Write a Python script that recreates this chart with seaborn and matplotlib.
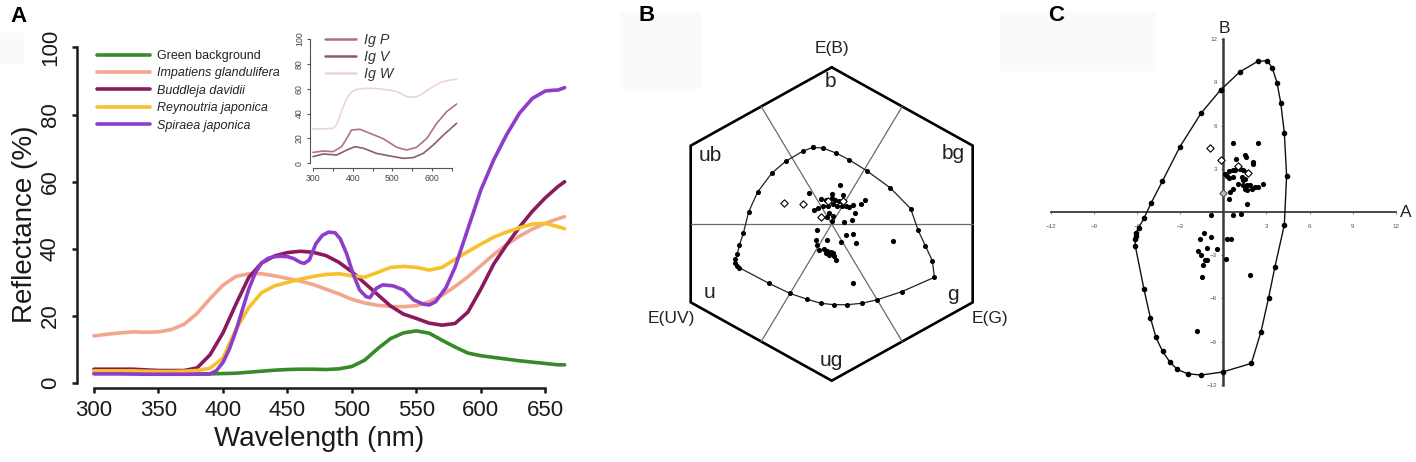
import numpy as np
import pandas as pd
import matplotlib
matplotlib.use("Agg")
import matplotlib.pyplot as plt
import seaborn as sns
from matplotlib.lines import Line2D
from matplotlib.patches import Rectangle

# ---------------- Panel A data ----------------
wl_grid = [300, 310, 320, 330, 340, 350, 360, 370, 380, 390,
           400, 410, 420, 430, 440, 450, 460, 470, 480, 490,
           500, 510, 520, 530, 540, 550, 560, 570, 580, 590,
           600, 610, 620, 630, 640, 650, 660, 665]
green_bg = [3.0, 3.0, 3.0, 3.0, 2.9, 2.8, 2.8, 2.8, 2.8, 2.8,
            2.9, 3.0, 3.3, 3.6, 3.9, 4.1, 4.2, 4.2, 4.1, 4.3,
            5.0, 6.9, 10.3, 13.3, 15.0, 15.6, 14.9, 12.8, 10.8, 9.0,
            8.2, 7.7, 7.2, 6.7, 6.3, 5.9, 5.5, 5.5]
impatiens = [14.1, 14.6, 15.0, 15.3, 15.2, 15.3, 16.0, 17.6, 20.8, 25.2,
             29.2, 31.8, 32.6, 32.6, 32.0, 31.2, 30.4, 29.4, 28.0, 26.6,
             25.0, 23.9, 23.2, 22.9, 22.8, 23.1, 24.3, 26.2, 28.8, 31.7,
             35.0, 38.3, 41.3, 43.8, 45.9, 47.6, 49.0, 49.6]
buddleja = [4.2, 4.2, 4.2, 4.2, 4.0, 3.8, 3.8, 3.8, 4.6, 8.5,
            15.0, 23.5, 31.5, 35.8, 37.9, 38.9, 39.3, 39.0, 38.0, 36.0,
            33.2, 29.8, 26.4, 23.0, 20.6, 19.3, 17.9, 17.3, 17.8, 21.2,
            28.0, 35.5, 41.2, 46.5, 51.2, 55.2, 58.6, 60.0]
reynoutria = [3.7, 3.7, 3.7, 3.7, 3.6, 3.5, 3.5, 3.6, 3.8, 4.5,
              7.5, 16.0, 22.5, 27.0, 29.0, 30.0, 31.0, 31.8, 32.4, 32.6,
              32.0, 31.6, 33.0, 34.5, 34.8, 34.5, 33.7, 34.5, 36.9, 39.2,
              41.4, 43.5, 45.0, 46.3, 47.4, 47.6, 46.6, 46.0]
wl_spiraea = [300, 320, 340, 360, 380, 390, 395, 400, 405, 410, 415, 420, 425,
              430, 435, 440, 445, 450, 455, 460, 463, 467, 472, 477, 482, 487,
              491, 496, 501, 506, 511, 514, 519, 524, 532, 540, 548, 555, 560,
              565, 573, 580, 590, 600, 610, 620, 630, 640, 650, 655, 660, 665]
spiraea = [2.8, 2.8, 2.7, 2.7, 2.7, 2.8, 3.8, 6.2, 10.2, 15.5, 21.8, 28.0, 32.8,
           35.8, 37.2, 37.7, 37.8, 37.7, 37.1, 36.0, 35.7, 36.7, 41.5, 44.0, 45.0, 44.8,
           43.0, 38.5, 32.5, 27.8, 25.8, 25.5, 28.3, 29.3, 29.0, 27.8, 24.8, 23.6, 23.3,
           24.3, 28.5, 34.5, 46.0, 57.5, 66.5, 74.0, 80.4, 84.8, 87.0, 87.2, 87.3, 88.0]

species_names = ["Green background", "Impatiens glandulifera", "Buddleja davidii",
                 "Reynoutria japonica", "Spiraea japonica"]
species_colors = ["#37892a", "#f2a68e", "#8b1a5c", "#f6c12b", "#8e3cc9"]

# Inset data (Impatiens glandulifera morphs)
wl_igW = [300, 330, 351, 358, 364, 372, 385, 397, 410, 430, 444, 460, 477, 495,
          511, 525, 536, 550, 561, 575, 587, 603, 620, 635, 645, 662]
ig_W = [27.6, 27.8, 28.2, 30.5, 34.9, 42.0, 52.3, 57.5, 59.5, 60.2, 60.3, 60.2, 59.5,
        58.8, 57.7, 55.5, 53.6, 53.2, 53.6, 55.8, 58.5, 61.8, 64.9, 66.2, 67.0, 67.6]
wl_igP = [300, 326, 351, 372, 385, 397, 418, 444, 477, 511, 536, 561, 587, 612, 637, 662]
ig_P = [8.8, 9.9, 9.4, 13.4, 20.0, 26.8, 27.4, 24.1, 19.8, 12.9, 10.7, 12.9, 20.1,
        32.2, 41.6, 47.7]
wl_igV = [300, 326, 360, 385, 406, 427, 460, 494, 528, 553, 578, 603, 629, 662]
ig_V = [5.4, 7.5, 6.7, 10.7, 13.4, 12.1, 8.0, 5.9, 4.0, 4.6, 8.0, 14.7, 22.8, 32.2]
ig_names = ["Ig P", "Ig V", "Ig W"]
ig_colors = ["#ad7088", "#8c5b6d", "#ecd3dd"]

# ---------------- Panel B data (hexagon units) ----------------
hexhull_x = [-0.117, -0.178, -0.283, -0.369, -0.455, -0.510, -0.543, -0.567, -0.579,
             -0.592, -0.596, -0.584, -0.567, -0.385, -0.256, -0.154, -0.066, 0.014,
             0.094, 0.184, 0.281, 0.430, 0.631, 0.618, 0.575, 0.530, 0.485, 0.358,
             0.215, 0.109, 0.027, -0.055]
hexhull_y = [0.489, 0.464, 0.400, 0.323, 0.204, 0.077, -0.060, -0.134, -0.191,
             -0.226, -0.251, -0.268, -0.279, -0.379, -0.443, -0.479, -0.506, -0.515,
             -0.515, -0.506, -0.483, -0.432, -0.340, -0.234, -0.138, -0.038, 0.098, 0.232,
             0.340, 0.409, 0.453, 0.485]
hex_x = [0.051, -0.137, 0.000, 0.068, -0.068, -0.035, 0.000, 0.020, 0.047, 0.205, 0.178,
         -0.109, -0.082, -0.051, -0.020, 0.006, 0.031, 0.061, 0.088, 0.109, 0.129, 0.143,
         -0.014, 0.006, -0.027, 0.000, 0.076, 0.127, -0.092, 0.088, 0.129, -0.096, -0.031,
         0.055, 0.147, -0.092, -0.076, -0.047, -0.027, -0.006, 0.006, -0.035, -0.016,
         0.016, 0.025, 0.375, 0.133]
hex_y = [0.252, 0.197, 0.193, 0.188, 0.161, 0.154, 0.167, 0.154, 0.146, 0.150, 0.129,
         0.090, 0.103, 0.112, 0.118, 0.129, 0.118, 0.112, 0.118, 0.107, 0.120, 0.069,
         0.069, 0.054, 0.044, 0.022, 0.012, 0.027, -0.041, -0.073, -0.063, -0.101, -0.099,
         -0.116, -0.122, -0.131, -0.165, -0.161, -0.173, -0.176, -0.186, -0.186, -0.195,
         -0.203, -0.229, -0.108, -0.375]
hexopen_x = [-0.291, -0.174, -0.066, -0.020, 0.072]
hexopen_y = [0.136, 0.130, 0.045, 0.146, 0.146]
hex_labels = ["E(B)", "b", "ub", "bg", "u", "g", "ug", "E(UV)", "E(G)"]

# ---------------- Panel C data (COC space) ----------------
cochull_A = [-0.19, -1.55, -3.01, -4.24, -5.03, -5.51, -5.89, -6.07, -6.10, -6.12, -6.12,
             -5.51, -5.07, -4.68, -4.22, -3.73, -3.20, -2.48, -1.55, -0.05, 1.95, 2.62,
             3.15, 3.59, 4.24, 4.40, 4.24, 3.99, 3.73, 3.41, 3.06, 2.39, 1.14]
cochull_B = [8.48, 6.86, 4.54, 2.13, 0.60, -0.44, -1.09, -1.48, -1.65, -1.85, -2.34,
             -5.38, -7.34, -8.71, -9.69, -10.40, -10.94, -11.24, -11.33, -11.12, -10.52,
             -8.32, -5.95, -3.80, -0.90, 2.53, 5.51, 7.60, 8.99, 9.99, 10.52, 10.47, 9.73]
coc_A = [0.65, 2.43, 0.88, 1.51, 1.58, 2.04, 2.08, 0.42, 0.65, 0.81, 1.16, 1.39, 1.62,
         0.12, 0.23, 0.42, 0.70, 1.27, 1.51, 1.39, 1.04, 1.39, 1.62, 1.85, 1.51, 1.62,
         1.97, 2.20, 2.73, 2.43, 0.70, 0.46, 0.42, 1.62,
         -0.86, 0.65, 1.20,
         -1.34, -1.60, -0.88, -1.16, -1.74, -0.42, -1.53, -1.30, -1.44, -1.16, -1.46,
         0.23, 0.51, 0.21, 1.88, -1.85]
coc_B = [4.80, 4.80, 3.71, 3.98, 3.82, 3.47, 3.36, 2.83, 2.90, 2.94, 3.01, 2.90, 2.78,
         2.62, 2.50, 2.39, 2.43, 2.43, 2.32, 2.20, 1.97, 1.85, 1.85, 1.85, 1.62, 1.55,
         1.62, 1.74, 1.97, 1.74, 1.62, 1.39, 0.93, 0.58,
         -0.19, -0.21, -0.16,
         -1.44, -1.90, -1.76, -2.50, -2.71, -2.59, -3.01, -3.34, -3.68, -3.31, -4.54,
         -1.85, -1.90, -3.24, -4.40, -8.25]
cocopen_A = [-0.93, -0.14, 1.03, 1.71]
cocopen_B = [4.45, 3.59, 3.20, 2.72]
cocgray_A = [-0.05]
cocgray_B = [1.33]
coc_ticks = [-12, -9, -6, -3, 3, 6, 9, 12]

# ---------------- style ----------------
sns.set_theme(style="white")
plt.rcParams["font.family"] = ["Liberation Sans", "DejaVu Sans"]
plt.rcParams["axes.facecolor"] = "none"

W, H = 1416, 462
fig = plt.figure(figsize=(W / 100, H / 100), dpi=100)
fig.patch.set_facecolor("white")


def fx(px):
    return px / W


def fy(py):
    return 1 - py / H


# faint background boxes
for (x0, y0, x1, y1) in [(0, 33, 23, 63), (620, 13, 700, 88), (1000, 12, 1155, 70)]:
    fig.patches.append(Rectangle((fx(x0), fy(y1)), (x1 - x0) / W, (y1 - y0) / H,
                                 transform=fig.transFigure, color="#fafafa", zorder=-5))

# ---------------- Panel A main ----------------
axA = fig.add_axes([fx(77), fy(388), (565 - 77) / W, (388 - 40.6) / H])
frames = []
for name, wl, vals in zip(species_names,
                          [wl_grid, wl_grid, wl_grid, wl_grid, wl_spiraea],
                          [green_bg, impatiens, buddleja, reynoutria, spiraea]):
    frames.append(pd.DataFrame({"wl": wl, "R": vals, "species": name}))
dfA = pd.concat(frames, ignore_index=True)
sns.lineplot(data=dfA, x="wl", y="R", hue="species", hue_order=species_names,
             palette=species_colors, estimator=None, legend=False, lw=2.6, ax=axA)
for ln in axA.lines:
    ln.set_clip_on(False)
    ln.set_solid_capstyle("round")
axA.set_xlim(286.8, 665.3)
axA.set_ylim(-1.4, 102)
for s in ["top", "right"]:
    axA.spines[s].set_visible(False)
for s in ["left", "bottom"]:
    axA.spines[s].set_linewidth(1.8)
    axA.spines[s].set_color("#1a1a1a")
axA.spines["left"].set_bounds(0, 100)
axA.spines["bottom"].set_bounds(300, 650)
axA.set_xticks(list(range(300, 651, 50)))
axA.set_yticks([0, 20, 40, 60, 80, 100])
axA.tick_params(axis="both", direction="out", length=3.6, width=1.8, color="#1a1a1a",
                labelsize=16, labelcolor="#1a1a1a", left=True, bottom=True)
axA.tick_params(axis="y", pad=8)
axA.tick_params(axis="x", pad=5)
for t in axA.get_yticklabels():
    t.set_rotation(90)
    t.set_va("center")
axA.set_xlabel("Wavelength (nm)", fontsize=20, color="#1a1a1a")
axA.set_ylabel("Reflectance (%)", fontsize=20, color="#1a1a1a")
axA.xaxis.set_label_coords(0.497, -0.108)
axA.xaxis.label.set_va("top")
axA.yaxis.set_label_coords(-0.08, 0.472)
axA.grid(False)

handles = [Line2D([], [], color=c, lw=2.6) for c in species_colors]
legA = axA.legend(handles, species_names, loc="upper left",
                  bbox_to_anchor=(fx(97), fy(50)), bbox_transform=fig.transFigure,
                  frameon=False, borderpad=0, borderaxespad=0,
                  handlelength=4.24, handletextpad=0.56, labelspacing=0.43,
                  prop={"family": "Liberation Sans", "size": 9.0})
for i, t in enumerate(legA.get_texts()):
    t.set_color("#222222")
    if i > 0:
        t.set_fontstyle("italic")

# ---------------- Panel A inset ----------------
axI = fig.add_axes([fx(310), fy(168.3), (459 - 310) / W, (168.3 - 36.5) / H])
dfI = pd.concat([pd.DataFrame({"wl": wl_igP, "R": ig_P, "morph": "Ig P"}),
                 pd.DataFrame({"wl": wl_igV, "R": ig_V, "morph": "Ig V"}),
                 pd.DataFrame({"wl": wl_igW, "R": ig_W, "morph": "Ig W"})], ignore_index=True)
sns.lineplot(data=dfI, x="wl", y="R", hue="morph", hue_order=ig_names, palette=ig_colors,
             estimator=None, legend=False, lw=1.2, ax=axI)
axI.set_xlim(292.4, 668)
axI.set_ylim(-4, 102)
for s in ["top", "right"]:
    axI.spines[s].set_visible(False)
for s in ["left", "bottom"]:
    axI.spines[s].set_linewidth(0.8)
    axI.spines[s].set_color("#555555")
axI.spines["left"].set_bounds(0, 100)
axI.spines["bottom"].set_bounds(300, 650)
axI.set_xticks(list(range(300, 651, 50)))
axI.set_xticklabels(["300", "", "400", "", "500", "", "600", ""])
axI.set_yticks([0, 20, 40, 60, 80, 100])
axI.tick_params(axis="both", direction="out", length=2.4, width=0.8, color="#555555",
                labelsize=6.3, labelcolor="#444444", left=True, bottom=True)
axI.tick_params(axis="y", pad=2)
axI.tick_params(axis="x", pad=1.5)
for t in axI.get_yticklabels():
    t.set_rotation(90)
    t.set_va("center")
axI.set_xlabel("")
axI.set_ylabel("")
axI.grid(False)
handlesI = [Line2D([], [], color=c, lw=1.8) for c in ig_colors]
legI = axI.legend(handlesI, ig_names, loc="upper left",
                  bbox_to_anchor=(fx(325), fy(33)), bbox_transform=fig.transFigure,
                  frameon=False, borderpad=0, borderaxespad=0,
                  handlelength=2.2, handletextpad=0.5, labelspacing=0.2,
                  prop={"family": "Liberation Sans", "size": 10.3, "style": "italic"})
for t in legI.get_texts():
    t.set_color("#333333")

# ---------------- Panel B hexagon ----------------
axB = fig.add_axes([fx(640), fy(420), 384 / W, 400 / H])
axB.set_xlim(-1.1775, 1.1812)
axB.set_ylim(-1.2508, 1.3019)
axB.axis("off")
ang = np.deg2rad([90, 30, -30, -90, -150, 150, 90])
axB.plot(np.cos(ang), np.sin(ang), color="black", lw=1.9, solid_joinstyle="miter")
for a in [0, 60, 120]:
    r = np.deg2rad(a)
    c30 = np.cos(np.deg2rad(30))
    axB.plot([-c30 * np.cos(r), c30 * np.cos(r)], [-c30 * np.sin(r), c30 * np.sin(r)],
             color="#6a6a6a", lw=0.9)
axB.plot(hexhull_x + hexhull_x[:1], hexhull_y + hexhull_y[:1], color="#222222", lw=0.9,
         marker="o", ms=2.6, mfc="black", mec="black")
sns.scatterplot(x=hex_x, y=hex_y, ax=axB, color="black", s=14, linewidth=0, zorder=4)
sns.scatterplot(x=hexopen_x, y=hexopen_y, ax=axB, marker="D", s=14, color="white",
                edgecolor="black", linewidth=0.8, zorder=5)
hex_lab_pos = [(0.0, 1.118, 12.5), (-0.006, 0.908, 15), (-0.748, 0.440, 15),
               (0.747, 0.447, 15), (-0.752, -0.438, 15), (0.747, -0.453, 15),
               (0.0, -0.868, 15), (-0.983, -0.602, 12.5), (0.972, -0.602, 12.5)]
for lab, (x, y, fs) in zip(hex_labels, hex_lab_pos):
    axB.text(x, y, lab, ha="center", va="center", fontsize=fs, color="#222222")

# ---------------- Panel C COC ----------------
axC = fig.add_axes([fx(1040), fy(400), 376 / W, 380 / H])
axC.set_xlim(-12.738, 13.391)
axC.set_ylim(-13.065, 13.343)
for s in ["top", "right"]:
    axC.spines[s].set_visible(False)
axC.spines["left"].set_position(("data", 0))
axC.spines["bottom"].set_position(("data", 0))
axC.spines["left"].set_bounds(-12, 12)
axC.spines["bottom"].set_bounds(-12, 12)
axC.spines["left"].set_linewidth(1.8)
axC.spines["bottom"].set_linewidth(1.3)
axC.spines["left"].set_color("#3a3a3a")
axC.spines["bottom"].set_color("#3a3a3a")
axC.set_xticks(coc_ticks)
axC.set_yticks(coc_ticks)
axC.tick_params(axis="both", direction="out", length=1.5, width=0.5, color="#555555",
                labelsize=4.5, labelcolor="#555555", left=True, bottom=True)
axC.tick_params(axis="x", pad=7)
axC.tick_params(axis="y", pad=3)
axC.grid(False)
axC.plot(cochull_A + cochull_A[:1], cochull_B + cochull_B[:1], color="#111111", lw=1.0,
         marker="o", ms=3.0, mfc="black", mec="black", zorder=3)
sns.scatterplot(x=coc_A, y=coc_B, ax=axC, color="black", s=14, linewidth=0, zorder=4)
sns.scatterplot(x=cocopen_A, y=cocopen_B, ax=axC, marker="D", s=14, color="white",
                edgecolor="black", linewidth=0.8, zorder=5)
sns.scatterplot(x=cocgray_A, y=cocgray_B, ax=axC, marker="D", s=14, color="#bbbbbb",
                edgecolor="#555555", linewidth=0.8, zorder=5)
axC.set_xlabel("")
axC.set_ylabel("")
axC.text(12.7, 0.0, "A", ha="center", va="center", fontsize=12.5, color="#222222")
axC.text(0.07, 12.75, "B", ha="center", va="center", fontsize=12.5, color="#222222")

# panel letters
for lab, (px, py) in zip(["A", "B", "C"], [(18.7, 16), (647, 15.3), (1056, 15.3)]):
    fig.text(fx(px), fy(py), lab, ha="center", va="center", fontsize=16,
             fontweight="bold", color="black")

fig.savefig("out.png", dpi=100)
